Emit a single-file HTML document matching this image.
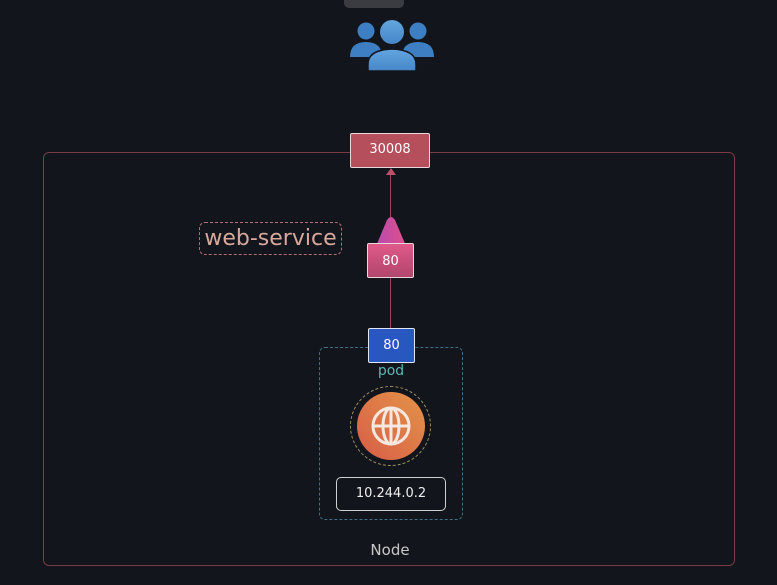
<!DOCTYPE html>
<html><head><style>
html,body{margin:0;padding:0;width:777px;height:585px;background:#12151b;overflow:hidden;font-family:"DejaVu Sans","Liberation Sans",sans-serif;}
.a{position:absolute;box-sizing:border-box;}
</style></head><body>
<div class="a" style="left:344px;top:-8px;width:60px;height:16px;background:#3a3c41;border-radius:5px;"></div>
<svg class="a" style="left:348px;top:20px" width="88" height="52" viewBox="0 0 88 52">
<defs><linearGradient id="g" x1="0" y1="0" x2="0" y2="1"><stop offset="0" stop-color="#62a6e0"/><stop offset="1" stop-color="#4686c8"/></linearGradient></defs>
<circle cx="18" cy="11" r="8.5" fill="#3d7fc2"/><circle cx="70" cy="11" r="8.5" fill="#3d7fc2"/>
<path d="M2 37 Q2 22 18 22 Q34 22 34 37Z" fill="#3d7fc2"/><path d="M54 37 Q54 22 70 22 Q86 22 86 37Z" fill="#3d7fc2"/>
<circle cx="44" cy="12" r="12" fill="url(#g)"/><path d="M20 51 L20 44 Q20 30 44 29 Q68 30 68 44 L68 51Z" fill="url(#g)" stroke="#12151b" stroke-width="1.5"/>
</svg>
<div class="a" style="left:43px;top:152px;width:692px;height:414px;border:1.5px solid #7a3c47;border-radius:6px;"></div>
<div class="a" style="left:390px;top:170px;width:1px;height:160px;background:#9a4458;"></div>
<svg class="a" style="left:385px;top:166px" width="12" height="10"><polygon points="6,2 1,9 11,9" fill="#c0506a"/></svg>
<div class="a" style="left:350px;top:133px;width:80px;height:35px;background:#b54f5c;border:1.5px solid #e8d8dc;border-radius:2px;color:#fff;font-size:13px;text-align:center;line-height:32px;">30008</div>
<svg class="a" style="left:370px;top:216px" width="42" height="30"><defs><linearGradient id="t" x1="0" x2="1"><stop offset="0" stop-color="#b84ab0"/><stop offset="1" stop-color="#e0508a"/></linearGradient></defs><path d="M6 30 L17 4 Q21 -2 25 4 L36 30Z" fill="url(#t)"/></svg>
<div class="a" style="left:367px;top:243px;width:47px;height:35px;background:linear-gradient(#e05a8a,#c44d78 60%,#b0486c);border:1.5px solid #e8d8dc;border-radius:2px;color:#fff;font-size:13px;text-align:center;line-height:36px;">80</div>
<div class="a" style="left:199px;top:222px;width:143px;height:33px;border:1.5px dashed #b0707a;border-radius:6px;color:#d8a89c;font-size:22px;line-height:31px;text-align:center;white-space:nowrap;">web-service</div>
<div class="a" style="left:319px;top:347px;width:144px;height:173px;border:1.5px dashed #3e7088;border-radius:6px;"></div>
<div class="a" style="left:368px;top:328px;width:47px;height:35px;background:#2857bf;border:1.5px solid #dfe6f4;border-radius:2px;color:#fff;font-size:13px;text-align:center;line-height:34px;">80</div>
<div class="a" style="left:360px;top:363px;width:62px;text-align:center;color:#5ab8b4;font-size:14px;">pod</div>
<div class="a" style="left:350px;top:386px;width:81px;height:80px;border:1.5px dashed #a09060;border-radius:50%;"></div>
<svg class="a" style="left:356px;top:391px" width="70" height="70" viewBox="0 0 70 70">
<defs><linearGradient id="o" x1="0" y1="1" x2="1" y2="0"><stop offset="0" stop-color="#d85c48"/><stop offset="1" stop-color="#e39448"/></linearGradient></defs>
<circle cx="35" cy="35" r="34" fill="url(#o)"/>
<g fill="none" stroke="#f4e8e0" stroke-width="3"><circle cx="35" cy="35" r="18"/><ellipse cx="35" cy="35" rx="8" ry="18"/><line x1="35" y1="17" x2="35" y2="53"/><line x1="17" y1="35" x2="53" y2="35"/></g>
</svg>
<div class="a" style="left:336px;top:477px;width:110px;height:34px;border:1.5px solid #d0d0d0;border-radius:5px;color:#eee;font-size:13px;text-align:center;line-height:31px;">10.244.0.2</div>
<div class="a" style="left:340px;top:541px;width:100px;text-align:center;color:#c8c8c8;font-size:15px;">Node</div>
</body></html>
